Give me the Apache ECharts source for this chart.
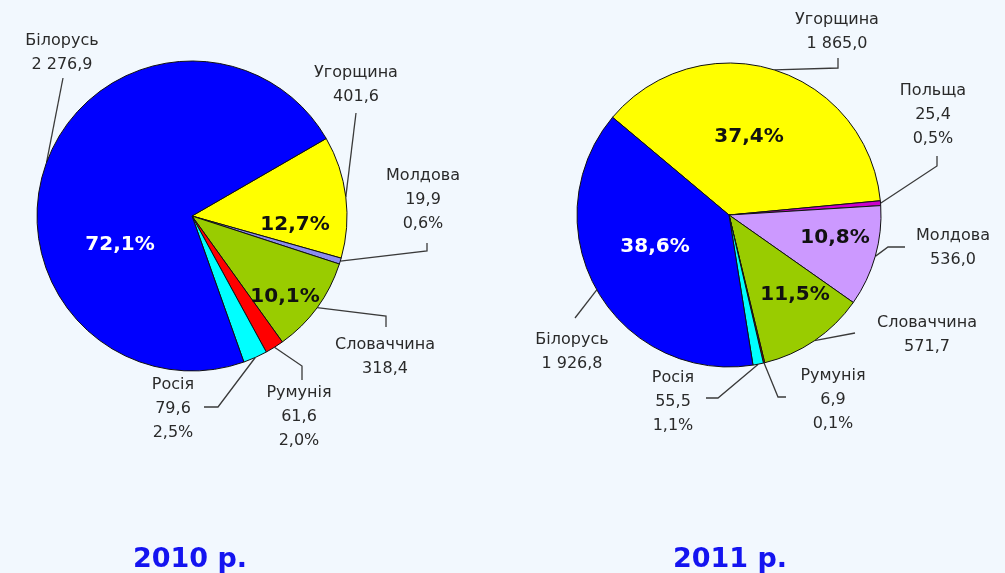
<!DOCTYPE html>
<html>
<head>
<meta charset="utf-8">
<script src="https://cdn.jsdelivr.net/npm/echarts@6/dist/echarts.min.js"></script>
<style>
  html, body { margin: 0; padding: 0; background: #f2f8fe; }
  #chart { width: 1005px; height: 573px; }
</style>
</head>
<body>
<div id="chart"></div>
<script>
// дані 2010 р. (за годинниковою стрілкою)
var names2010 = ['Угорщина', 'Молдова', 'Словаччина', 'Румунія', 'Росія', 'Білорусь'];
var values2010 = [401.6, 19.9, 318.4, 61.6, 79.6, 2276.9];
var colors2010 = ['#ffff00', '#8c8cf0', '#99cc00', '#ff0000', '#00ffff', '#0000ff'];

// дані 2011 р.
var names2011 = ['Угорщина', 'Польща', 'Молдова', 'Словаччина', 'Румунія', 'Росія', 'Білорусь'];
var values2011 = [1865.0, 25.4, 536.0, 571.7, 6.9, 55.5, 1926.8];
var colors2011 = ['#ffff00', '#cc00cc', '#cc99ff', '#99cc00', '#ff0000', '#00ffff', '#0000ff'];

// великі сектори — відсоток всередині
var inside2010 = ['Угорщина', 'Словаччина', 'Білорусь'];
var inside2011 = ['Угорщина', 'Молдова', 'Словаччина', 'Білорусь'];

// розміщення зовнішніх підписів і ліній-виносок
var labels2010 = {
    'Білорусь': { x: 62, y: 53, line: [[63, 78]] },
    'Угорщина': { x: 356, y: 85, line: [[356, 113]] },
    'Молдова': { x: 423, y: 200, line: [[427, 251], [427, 243]] },
    'Словаччина': { x: 385, y: 357, line: [[386, 316], [386, 327]] },
    'Румунія': { x: 299, y: 417, line: [[302, 366], [302, 380]] },
    'Росія': { x: 173, y: 409, line: [[218, 407], [204, 407]] }
};
var labels2011 = {
    'Угорщина': { x: 837, y: 32, line: [[838, 68], [838, 58]] },
    'Польща': { x: 933, y: 115, line: [[937, 166], [937, 156]] },
    'Молдова': { x: 953, y: 248, line: [[888, 247], [905, 247]] },
    'Словаччина': { x: 927, y: 335, line: [[855, 333]] },
    'Румунія': { x: 833, y: 400, line: [[778, 397], [786, 397]] },
    'Росія': { x: 673, y: 402, line: [[718, 398], [706, 398]] },
    'Білорусь': { x: 572, y: 352, line: [[575, 318]] }
};
// розміщення відсотків всередині секторів
var pct2010 = { 'Білорусь': [120, 245], 'Угорщина': [295, 225], 'Словаччина': [285, 297] };
var pct2011 = { 'Угорщина': [749, 137], 'Білорусь': [655, 247], 'Молдова': [835, 238], 'Словаччина': [795, 295] };

var FONT = '"DejaVu Sans", Verdana, sans-serif';

function fmtNum(v) {
    var s = v.toFixed(1).split('.');
    return s[0].replace(/\B(?=(\d{3})+(?!\d))/g, ' ') + ',' + s[1];
}
function fmtPct(p) {
    return p.toFixed(1).replace('.', ',') + '%';
}

function outerSeries(names, values, colors, inside, pos, center, radius, start) {
    return {
        type: 'pie',
        center: center,
        radius: radius,
        startAngle: start,
        clockwise: true,
        percentPrecision: 1,
        animation: false,
        silent: true,
        itemStyle: { borderColor: '#111', borderWidth: 1 },
        label: {
            position: 'outside',
            color: '#2a2a2a',
            fontFamily: FONT,
            fontSize: 16,
            lineHeight: 24,
            align: 'center',
            overflow: 'none',
            formatter: function(p) {
                var s = p.name + '\n' + fmtNum(p.value);
                if (inside.indexOf(p.name) < 0) s += '\n' + fmtPct(p.percent);
                return s;
            }
        },
        labelLine: { show: true, lineStyle: { color: '#3a3a3a', width: 1.3 } },
        labelLayout: function(params) {
            var l = pos[names[params.dataIndex]];
            var pts = [params.labelLinePoints[0]].concat(l.line);
            return {
                x: l.x, y: l.y,
                align: 'center', verticalAlign: 'middle',
                labelLinePoints: pts
            };
        },
        data: names.map(function(n, i) {
            return { name: n, value: values[i], itemStyle: { color: colors[i] } };
        })
    };
}

function innerSeries(names, values, inside, pos, center, radius, start) {
    return {
        type: 'pie',
        center: center,
        radius: radius,
        startAngle: start,
        clockwise: true,
        percentPrecision: 1,
        animation: false,
        silent: true,
        itemStyle: { color: 'transparent', borderWidth: 0 },
        label: {
            position: 'inside',
            fontFamily: FONT,
            fontSize: 20,
            fontWeight: 'bold',
            overflow: 'none',
            formatter: function(p) {
                return inside.indexOf(p.name) >= 0 ? fmtPct(p.percent) : '';
            }
        },
        labelLine: { show: false },
        labelLayout: function(params) {
            var p = pos[names[params.dataIndex]];
            if (!p) return {};
            return { x: p[0], y: p[1], align: 'center', verticalAlign: 'middle' };
        },
        data: names.map(function(n, i) {
            return {
                name: n, value: values[i],
                label: { color: n === 'Білорусь' ? '#ffffff' : '#111111' }
            };
        })
    };
}

var myChart = echarts.init(document.getElementById('chart'));

var titleStyle = { color: '#1414f0', fontSize: 27, fontWeight: 'bold', fontFamily: FONT };

var option = {
    backgroundColor: '#f2f8fe',
    title: [{
        text: '2010 р.',
        left: 185, top: 541,
        textAlign: 'center',
        textStyle: titleStyle
    }, {
        text: '2011 р.',
        left: 725, top: 541,
        textAlign: 'center',
        textStyle: titleStyle
    }],
    series: [
        outerSeries(names2010, values2010, colors2010, inside2010, labels2010, [192, 216], 155, 30),
        innerSeries(names2010, values2010, inside2010, pct2010, [192, 216], 155, 30),
        outerSeries(names2011, values2011, colors2011, inside2011, labels2011, [729, 215], 152, 140),
        innerSeries(names2011, values2011, inside2011, pct2011, [729, 215], 152, 140)
    ]
};

myChart.setOption(option);
</script>
</body>
</html>
